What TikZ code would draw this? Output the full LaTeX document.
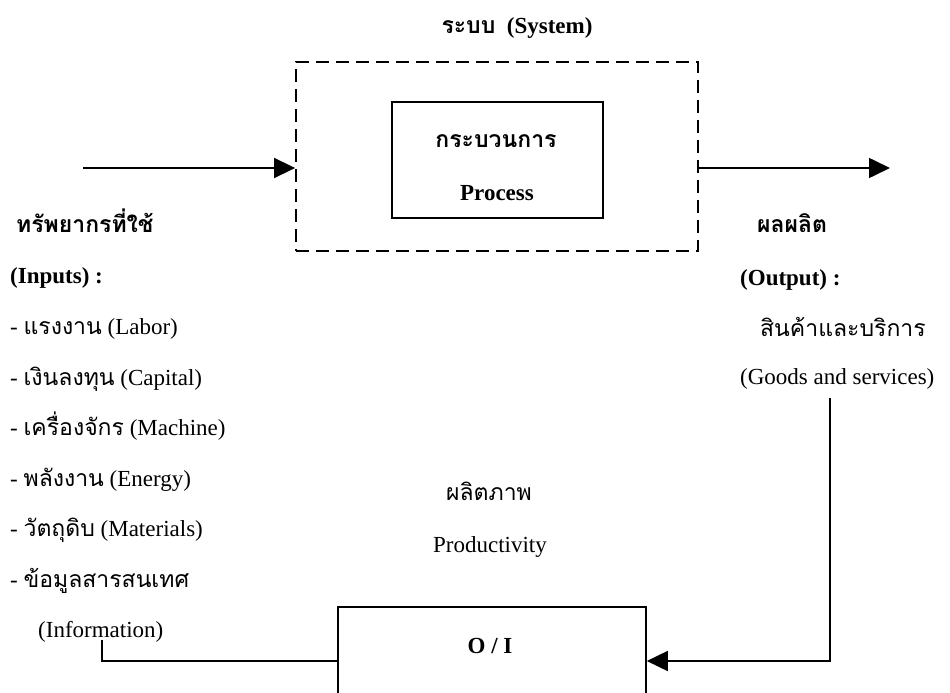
\documentclass[tikz,border=0pt]{standalone}
\usepackage{fontspec}
\setmainfont{Liberation Serif}
\newfontfamily\thaifont[Script=Thai]{Loma}
\usetikzlibrary{arrows.meta}
\newcommand\tf[1]{{\thaifont #1}}
\begin{document}
\begin{tikzpicture}[x=1pt,y=-1pt,
  txt/.style={inner sep=0pt,font=\fontsize{23}{28}\selectfont},
  btxt/.style={txt,font=\fontsize{23}{28}\selectfont\bfseries},
  line/.style={line width=1.6pt},
  arr/.style={line, -{Triangle[length=21pt,width=20pt]}},
  sysbox/.style={draw,line width=1.8pt,dash pattern=on 13pt off 7pt,inner sep=0pt},
  solidbox/.style={draw,line width=1.6pt,inner sep=0pt}]
\useasboundingbox (0,0) rectangle (950,693);
\clip (0,0) rectangle (950,693);
% title
\node[btxt,anchor=base] (title) at (517,34) {\tf{ระบบ}\ \ (System)};
% system box
\node[sysbox,minimum width=402pt,minimum height=189pt] (sys) at (497,156.5) {};
\node[solidbox,minimum width=211pt,minimum height=116pt] (proc) at (497.5,160) {};
\node[btxt,anchor=base] (proc1) at (496,147) {\tf{กระบวนการ}};
\node[btxt,anchor=base] (proc2) at (497,200) {Process};
% in/out arrows
\coordinate (inS) at (83,168);
\coordinate (outE) at (890,168);
\draw[arr] (inS) -- (inS -| sys.west);
\draw[arr] (outE -| sys.east) -- (outE);
% inputs
\node[btxt,anchor=base west] (inh) at (16,232) {\tf{ทรัพยากรที่ใช้}};
\node[btxt,anchor=base west] (inl) at (10,283) {(Inputs) :};
\node[txt,anchor=base west] (i1) at (10,334) {- \tf{แรงงาน} (Labor)};
\node[txt,anchor=base west] (i2) at (10,385) {- \tf{เงินลงทุน} (Capital)};
\node[txt,anchor=base west] (i3) at (10,435) {- \tf{เครื่องจักร} (Machine)};
\node[txt,anchor=base west] (i4) at (10,486) {- \tf{พลังงาน} (Energy)};
\node[txt,anchor=base west] (i5) at (10,536) {- \tf{วัตถุดิบ} (Materials)};
\node[txt,anchor=base west] (i6) at (10,587) {- \tf{ข้อมูลสารสนเทศ}};
\node[txt,anchor=base west] (i7) at (38,637) {(Information)};
% outputs
\node[btxt,anchor=base west] (outh) at (757,232) {\tf{ผลผลิต}};
\node[btxt,anchor=base west] (outl) at (740,285) {(Output) :};
\node[txt,anchor=base west] (o1) at (760,336) {\tf{สินค้าและบริการ}};
\node[txt,anchor=base west] (o2) at (740,384) {(Goods and services)};
% productivity
\node[txt,anchor=base] (p1) at (489,500) {\tf{ผลิตภาพ}};
\node[txt,anchor=base] (p2) at (490,552) {Productivity};
\node[solidbox,minimum width=308pt,minimum height=200pt] (oi) at (492,707) {};
\node[btxt,anchor=base] (oit) at (490,653) {O / I};
% feedback
\coordinate (fbT) at (830,398);
\coordinate (fbB) at (830,661);
\draw[arr] (fbT) -- (fbB) -- (fbB -| oi.east);
\coordinate (lcT) at (102,640);
\coordinate (lcB) at (102,661);
\draw[line] (lcB -| oi.west) -- (lcB) -- (lcT);
\end{tikzpicture}
\end{document}
